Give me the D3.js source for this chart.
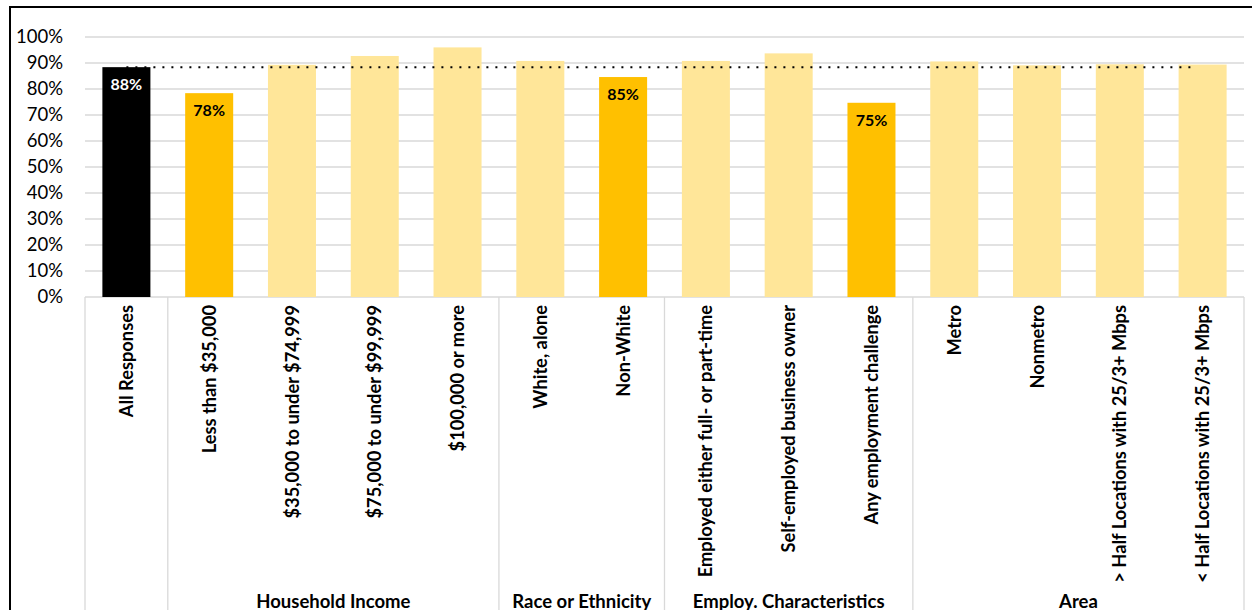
<!DOCTYPE html>
<html>
<head>
<meta charset="utf-8">
<script src="https://cdn.jsdelivr.net/npm/d3@7"></script>
<style>
  html, body { margin: 0; padding: 0; background: #fff; }
  svg { display: block; font-family: Lato, "Open Sans", sans-serif; }
</style>
</head>
<body>
<svg id="chart" width="1252" height="610"></svg>
<script>
// Share of respondents, by category
const categories = [
  "All Responses",
  "Less than $35,000",
  "$35,000 to under $74,999",
  "$75,000 to under $99,999",
  "$100,000 or more",
  "White, alone",
  "Non-White",
  "Employed either full- or part-time",
  "Self-employed business owner",
  "Any employment challenge",
  "Metro",
  "Nonmetro",
  "> Half Locations with 25/3+ Mbps",
  "< Half Locations with 25/3+ Mbps"
];
const values = [0.884, 0.784, 0.893, 0.927, 0.960, 0.908, 0.846, 0.908, 0.937, 0.747, 0.906, 0.891, 0.895, 0.894];
// "total" = overall figure, "low" = notably below overall, "other" = the rest
const tiers = ["total", "low", "other", "other", "other", "other", "low", "other", "other", "low", "other", "other", "other", "other"];
const groupNames = ["", "Household Income", "Race or Ethnicity", "Employ. Characteristics", "Area"];
const groupSizes = [1, 4, 2, 3, 4];
const yTicks = [0, 0.1, 0.2, 0.3, 0.4, 0.5, 0.6, 0.7, 0.8, 0.9, 1.0];

(function draw() {
  const svg = d3.select("#chart");
  const plotLeft = 85, plotRight = 1244, plotTop = 37, plotBottom = 297;

  const x = d3.scaleBand().domain(categories).range([plotLeft, plotRight]).paddingInner(0.42).paddingOuter(0.21);
  const y = d3.scaleLinear().domain([0, 1]).range([plotBottom, plotTop]);

  const fill = { total: "#000000", low: "#FFC000", other: "#FFE699" };
  const fmt = d3.format(".0%");

  // outer chart frame
  svg.append("rect")
    .attr("x", 10).attr("y", 7).attr("width", 1300).attr("height", 700)
    .attr("fill", "none").attr("stroke", "#000").attr("stroke-width", 2);

  // horizontal gridlines
  svg.append("g").selectAll("line").data(yTicks).join("line")
    .attr("x1", plotLeft).attr("x2", plotRight)
    .attr("y1", d => y(d)).attr("y2", d => y(d))
    .attr("stroke", "#d9d9d9").attr("stroke-width", 1.3);

  // y axis labels
  const yAxis = d3.axisLeft(y).tickValues(yTicks).tickFormat(fmt).tickSize(0).tickPadding(0);
  const yg = svg.append("g").attr("transform", "translate(63,0)").call(yAxis);
  yg.select(".domain").remove();
  yg.selectAll("text").attr("font-size", 18.5).attr("fill", "#000")
    .attr("font-family", "Lato, sans-serif");

  // bars
  svg.append("g").selectAll("rect").data(categories).join("rect")
    .attr("x", d => x(d))
    .attr("width", x.bandwidth())
    .attr("y", (d, i) => y(values[i]))
    .attr("height", (d, i) => y(0) - y(values[i]))
    .attr("fill", (d, i) => fill[tiers[i]]);

  // value labels for the overall and below-overall bars
  svg.append("g").selectAll("text")
    .data(categories.map((c, i) => ({ c, v: values[i], t: tiers[i] })).filter(d => d.t !== "other"))
    .join("text")
    .attr("x", d => x(d.c) + x.bandwidth() / 2)
    .attr("y", d => y(d.v) + 23)
    .attr("text-anchor", "middle")
    .attr("font-size", 16).attr("font-weight", "bold")
    .attr("fill", d => d.t === "total" ? "#fff" : "#000")
    .text(d => fmt(d.v));

  // dotted reference line at the overall level
  const firstC = categories[0], lastC = categories[categories.length - 1];
  svg.append("line")
    .attr("x1", x(firstC) + x.bandwidth() / 2)
    .attr("x2", x(lastC) + x.bandwidth() / 2 - 6)
    .attr("y1", y(values[0])).attr("y2", y(values[0]))
    .attr("stroke", "#000").attr("stroke-width", 2)
    .attr("stroke-dasharray", "2,7");

  // group dividers and group labels below the axis
  const step = x.step();
  let start = 0;
  const dividerXs = [plotLeft];
  groupSizes.forEach((n, gi) => {
    const x0 = plotLeft + start * step, x1 = plotLeft + (start + n) * step;
    dividerXs.push(x1);
    if (groupNames[gi]) {
      svg.append("text")
        .attr("x", (x0 + x1) / 2).attr("y", 608)
        .attr("text-anchor", "middle")
        .attr("font-size", 18.5).attr("font-weight", "bold").attr("fill", "#000")
        .text(groupNames[gi]);
    }
    start += n;
  });
  svg.append("g").selectAll("line").data(dividerXs).join("line")
    .attr("x1", d => d).attr("x2", d => d)
    .attr("y1", plotBottom).attr("y2", 612)
    .attr("stroke", "#d9d9d9").attr("stroke-width", 1.3);

  // category labels, rotated
  svg.append("g").selectAll("text").data(categories).join("text")
    .attr("transform", d => `translate(${x(d) + x.bandwidth() / 2},305) rotate(-90)`)
    .attr("text-anchor", "end")
    .attr("dy", "0.36em")
    .attr("font-size", 18.3).attr("font-weight", "bold").attr("fill", "#000")
    .text(d => d);
})();
</script>
</body>
</html>
